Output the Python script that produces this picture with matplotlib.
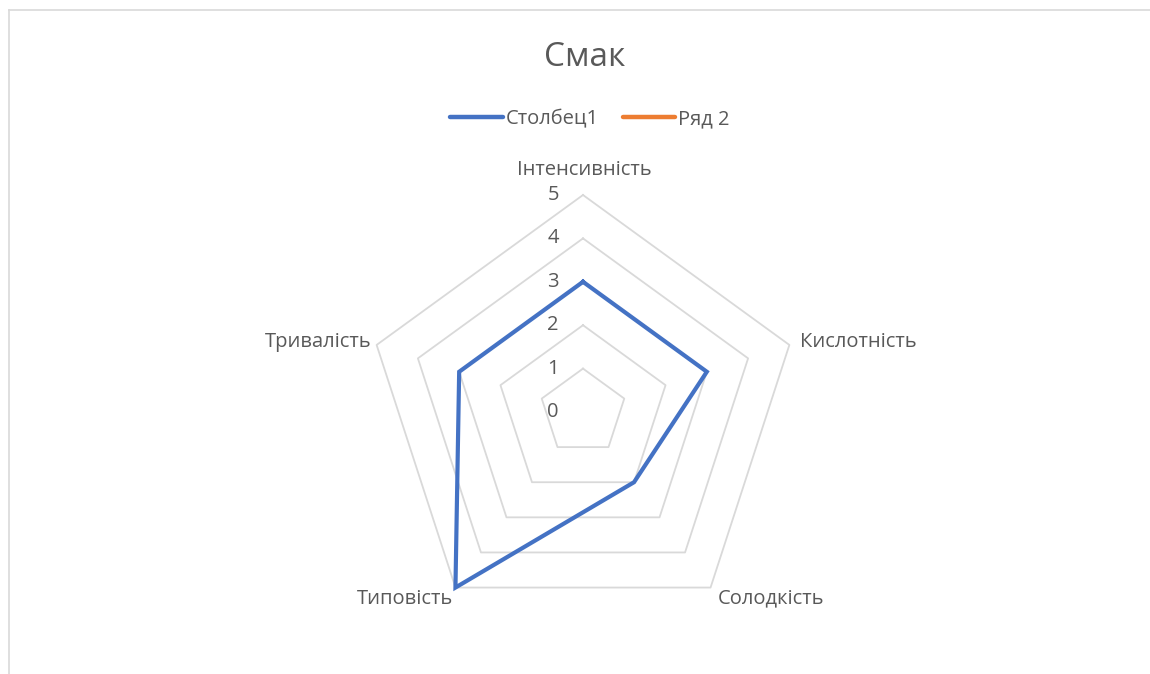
import numpy as np
import matplotlib
matplotlib.use("Agg")
import matplotlib.pyplot as plt
from matplotlib.lines import Line2D

plt.rcParams['font.family'] = ['Open Sans', 'DejaVu Sans']

# data
categories = ['Інтенсивність', 'Кислотність', 'Солодкість', 'Типовість', 'Тривалість']
series1 = [3, 3, 2, 5, 3]
series1_name = 'Столбец1'
series2_name = 'Ряд 2'
rings = [1, 2, 3, 4, 5]
tick_labels = ['0', '1', '2', '3', '4', '5']
title = 'Смак'

BLUE = '#4472C4'
ORANGE = '#ED7D31'
GRID = '#D9D9D9'
TEXT = '#595959'

W, H = 1150, 674
fig = plt.figure(figsize=(W / 100, H / 100), dpi=100)

# chart area border (only top and left edges fall inside the image)
fig.add_artist(Line2D([9 / W, 1.0], [1 - 10 / H, 1 - 10 / H], transform=fig.transFigure,
                      color=GRID, lw=1.2))
fig.add_artist(Line2D([9 / W, 9 / W], [0.0, 1 - 10 / H], transform=fig.transFigure,
                      color=GRID, lw=1.2))

cx, cy, unit = 583, 412, 43.4  # centre in px, px per value unit
ax = fig.add_axes([0, 0, 1, 1])
ax.set_xlim(-cx / unit, (W - cx) / unit)
ax.set_ylim(-(H - cy) / unit, cy / unit)
ax.axis('off')

n = len(categories)
angles = np.arange(n) * 2 * np.pi / n


def to_xy(vals):
    vals = np.asarray(vals, dtype=float)
    return vals * np.sin(angles), vals * np.cos(angles)


# pentagon gridlines
for r in rings:
    x, y = to_xy([r] * n)
    ax.plot(np.append(x, x[0]), np.append(y, y[0]), color=GRID, lw=1.3, zorder=1)

# series
x, y = to_xy(series1)
ax.plot(np.append(x, x[0]), np.append(y, y[0]), color=BLUE, lw=3.0, zorder=3,
        solid_joinstyle='miter')

# category labels
fs = 14.5
offsets = [((1, 18), 'center', 'center'),
           ((8, 2), 'left', 'center'),
           ((5, -8), 'left', 'center'),
           ((-2, -8), 'right', 'center'),
           ((-4, 2), 'right', 'center')]
vx, vy = to_xy([max(rings)] * n)
for i, name in enumerate(categories):
    off, ha, va = offsets[i]
    ax.annotate(name, (vx[i], vy[i]), xytext=off, textcoords='offset points',
                ha=ha, va=va, fontsize=fs, color=TEXT)

# value tick labels along the top axis
for v, lab in enumerate(tick_labels):
    ax.annotate(lab, (0, v), xytext=(-21.5, 0), textcoords='offset points',
                ha='center', va='center', fontsize=fs, color=TEXT)

# title
fig.text(585 / W, 1 - 57 / H, title, ha='center', va='center', fontsize=24, color=TEXT)

# legend
handles = [Line2D([], [], color=BLUE, lw=3.2, solid_capstyle='round'),
           Line2D([], [], color=ORANGE, lw=3.2, solid_capstyle='round')]
leg = fig.legend(handles, [series1_name, series2_name], loc='center',
                 bbox_to_anchor=(590 / W, 1 - 119 / H), ncol=2, frameon=False,
                 fontsize=fs, handlelength=2.6, handletextpad=0.15, columnspacing=1.2)
for t in leg.get_texts():
    t.set_color(TEXT)

fig.savefig('out.png', dpi=100, facecolor='white')
